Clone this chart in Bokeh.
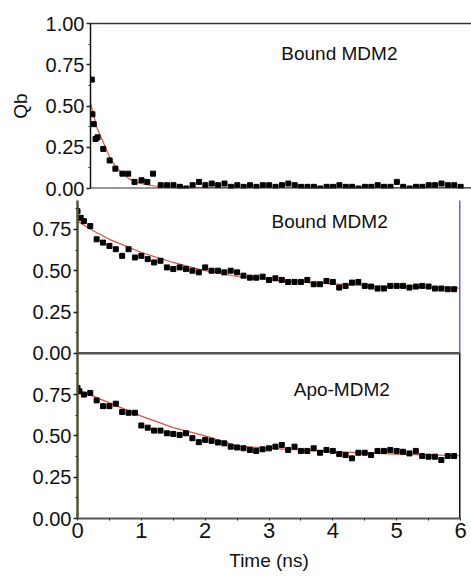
from bokeh.plotting import figure
from bokeh.layouts import column, row
from bokeh.models import LinearAxis, FixedTicker, Label, Range1d, Span, Spacer
from bokeh.embed import file_html
from bokeh.resources import INLINE

FONT = "Liberation Sans"

# ---------------- data ----------------
# Top panel: Qb, Bound MDM2
top_t = [0.02, 0.03, 0.05, 0.08, 0.11, 0.2, 0.3, 0.39, 0.5, 0.59, 0.69, 0.8, 0.89, 0.98,
         1.1, 1.2, 1.3, 1.4, 1.5, 1.6, 1.7, 1.8, 1.9, 2.0, 2.1, 2.2, 2.3, 2.4, 2.5, 2.6,
         2.7, 2.8, 2.9, 3.0, 3.1, 3.2, 3.3, 3.4, 3.5, 3.6, 3.7, 3.8, 3.9, 4.0, 4.1, 4.2,
         4.3, 4.4, 4.5, 4.6, 4.7, 4.8, 4.9, 5.0, 5.1, 5.2, 5.3, 5.4, 5.5, 5.6, 5.7, 5.8]
top_q = [0.66, 0.45, 0.39, 0.30, 0.31, 0.24, 0.17, 0.12, 0.09, 0.09, 0.04, 0.05, 0.04, 0.09,
         0.02, 0.02, 0.02, 0.01, 0.00, 0.02, 0.04, 0.02, 0.03, 0.02, 0.03, 0.01, 0.02, 0.01,
         0.02, 0.01, 0.02, 0.02, 0.01, 0.02, 0.03, 0.02, 0.01, 0.01, 0.01, 0.00, 0.01, 0.01,
         0.02, 0.01, 0.01, 0.00, 0.01, 0.01, 0.02, 0.01, 0.01, 0.04, 0.01, 0.00, 0.01, 0.01,
         0.02, 0.02, 0.03, 0.02, 0.02, 0.01]
top_fit_t = [0.0, 0.1, 0.2, 0.3, 0.4, 0.5, 0.6, 0.7, 0.8, 1.0, 1.2, 1.5, 2.0, 4.0, 6.0]
top_fit_q = [0.52, 0.37, 0.28, 0.19, 0.13, 0.09, 0.06, 0.04, 0.03, 0.015, 0.01, 0.008, 0.006, 0.006, 0.006]

# Middle panel: Qf, Bound MDM2
mid_t = [0.0, 0.05, 0.1, 0.2, 0.3, 0.4, 0.5, 0.6, 0.7, 0.8, 0.9, 1.0, 1.1, 1.2, 1.3, 1.4,
         1.5, 1.6, 1.7, 1.8, 1.9, 2.0, 2.1, 2.2, 2.3, 2.4, 2.5, 2.6, 2.7, 2.8, 2.9, 3.0,
         3.1, 3.2, 3.3, 3.4, 3.5, 3.6, 3.7, 3.8, 3.9, 4.0, 4.1, 4.2, 4.3, 4.4, 4.5, 4.6,
         4.7, 4.8, 4.9, 5.0, 5.1, 5.2, 5.3, 5.4, 5.5, 5.6, 5.7, 5.8, 5.9]
mid_q = [0.86, 0.82, 0.80, 0.77, 0.69, 0.67, 0.65, 0.63, 0.59, 0.63, 0.58, 0.59, 0.57, 0.55,
         0.56, 0.52, 0.51, 0.52, 0.51, 0.50, 0.49, 0.52, 0.50, 0.50, 0.49, 0.50, 0.49, 0.47,
         0.458, 0.458, 0.464, 0.444, 0.454, 0.444, 0.432, 0.432, 0.432, 0.444, 0.418, 0.418,
         0.438, 0.432, 0.398, 0.408, 0.428, 0.432, 0.408, 0.404, 0.392, 0.392, 0.408, 0.408,
         0.408, 0.398, 0.404, 0.408, 0.404, 0.392, 0.392, 0.388, 0.388]
mid_fit_t = [0.0, 0.25, 0.5, 0.75, 1.0, 1.5, 2.0, 2.5, 3.0, 3.5, 4.0, 4.5, 5.0, 5.5, 6.0]
mid_fit_q = [0.80, 0.74, 0.69, 0.65, 0.61, 0.55, 0.50, 0.465, 0.445, 0.43, 0.42, 0.41, 0.405, 0.40, 0.395]

# Bottom panel: Qf, Apo-MDM2
apo_t = [0.0, 0.03, 0.1, 0.2, 0.3, 0.4, 0.5, 0.6, 0.7, 0.8, 0.9, 1.0, 1.1, 1.2, 1.3, 1.4,
         1.5, 1.6, 1.7, 1.8, 1.9, 2.0, 2.1, 2.2, 2.3, 2.4, 2.5, 2.6, 2.7, 2.8, 2.9, 3.0,
         3.1, 3.2, 3.3, 3.4, 3.5, 3.6, 3.7, 3.8, 3.9, 4.0, 4.1, 4.2, 4.3, 4.4, 4.5, 4.6,
         4.7, 4.8, 4.9, 5.0, 5.1, 5.2, 5.3, 5.4, 5.5, 5.6, 5.7, 5.8, 5.9]
apo_q = [0.79, 0.77, 0.75, 0.76, 0.715, 0.68, 0.68, 0.695, 0.645, 0.64, 0.64, 0.563, 0.55,
         0.532, 0.532, 0.516, 0.512, 0.506, 0.516, 0.486, 0.462, 0.476, 0.47, 0.46, 0.455,
         0.435, 0.43, 0.425, 0.415, 0.409, 0.419, 0.425, 0.435, 0.445, 0.415, 0.435, 0.409,
         0.409, 0.425, 0.398, 0.415, 0.409, 0.39, 0.384, 0.364, 0.398, 0.398, 0.384, 0.409,
         0.409, 0.415, 0.409, 0.404, 0.394, 0.409, 0.378, 0.374, 0.374, 0.354, 0.378, 0.378]
apo_fit_t = [0.0, 0.5, 1.0, 1.5, 2.0, 2.5, 3.0, 3.5, 4.0, 4.5, 5.0, 5.5, 6.0]
apo_fit_q = [0.78, 0.70, 0.62, 0.55, 0.50, 0.44, 0.425, 0.415, 0.405, 0.397, 0.39, 0.385, 0.38]

x_ticks = [0, 1, 2, 3, 4, 5, 6]
x_minor = [0.5, 1.5, 2.5, 3.5, 4.5, 5.5]
y_ticks_top = [0.0, 0.25, 0.5, 0.75, 1.0]
y_ticks = [0.0, 0.25, 0.5, 0.75]
y_minor = [0.125, 0.375, 0.625, 0.875]

FIT = "#e5503f"
TXT = "#111111"


def style_y(ax, color, width):
    ax.axis_line_color = color
    ax.axis_line_width = width
    ax.major_tick_line_color = "#222222"
    ax.minor_tick_line_color = "#222222"
    ax.major_tick_line_width = 1.5
    ax.major_tick_out = 4
    ax.major_tick_in = 0
    ax.minor_tick_out = 2
    ax.minor_tick_in = 0
    ax.major_label_standoff = 2
    ax.major_label_text_font = FONT
    ax.major_label_text_font_size = "20px"
    ax.major_label_text_color = TXT


def bare_axis(color, width):
    return LinearAxis(ticker=FixedTicker(ticks=[]), axis_line_color=color, axis_line_width=width,
                      major_tick_line_color=None, minor_tick_line_color=None,
                      major_label_standoff=0)


def data(p, t, q, ft, fq, rng="default"):
    p.line(ft, fq, line_color=FIT, line_width=1.2, y_range_name=rng)
    p.scatter(t, q, marker="square", size=5, fill_color="black", line_color="black",
              y_range_name=rng)


# ---------------- top panel (Qb) ----------------
p1 = figure(width=465, height=200, x_range=Range1d(0, 5.97), y_range=Range1d(0, 1.0),
            output_backend="svg", toolbar_location=None,
            min_border_left=84, min_border_right=0, min_border_top=23, min_border_bottom=12)
p1.grid.visible = False
p1.outline_line_color = None
p1.xaxis.visible = False
data(p1, top_t, top_q, top_fit_t, top_fit_q)
ay = p1.yaxis[0]
ay.ticker = FixedTicker(ticks=y_ticks_top, minor_ticks=y_minor)
ay.major_label_overrides = {v: f"{v:.2f}" for v in y_ticks_top}
style_y(ay, "#111111", 1.5)
ay.axis_label = "Qb"
ay.axis_label_text_font = FONT
ay.axis_label_text_font_size = "19px"
ay.axis_label_text_font_style = "normal"
ay.axis_label_text_color = TXT
ay.axis_label_standoff = 12
p1.add_layout(bare_axis("#333333", 1.5), "above")
p1.add_layout(Span(location=0, dimension="width", line_color="#333333", line_width=2))
p1.add_layout(Label(x=3.9, y=0.82, text="Bound MDM2", text_align="center", text_baseline="middle",
                    text_font=FONT, text_font_size="19px", text_color=TXT))

# ---------------- middle + bottom panels (Qf) ----------------
p2 = figure(width=471, height=379, x_range=Range1d(0, 6.0), y_range=Range1d(0, 1.925),
            output_backend="svg", toolbar_location=None,
            min_border_left=77, min_border_right=11, min_border_top=0, min_border_bottom=61)
p2.extra_y_ranges = {"mid": Range1d(-1.0, 0.925)}
p2.grid.visible = False
p2.outline_line_color = None

data(p2, apo_t, apo_q, apo_fit_t, apo_fit_q)
data(p2, mid_t, mid_q, mid_fit_t, mid_fit_q, rng="mid")

ticks_all = y_ticks + [v + 1.0 for v in y_ticks]
minor_all = y_minor + [v + 1.0 for v in y_minor]
ay = p2.yaxis[0]
ay.ticker = FixedTicker(ticks=ticks_all, minor_ticks=minor_all)
overrides = {v: f"{v:.2f}" for v in y_ticks}
overrides.update({v + 1.0: f"{v:.2f}" for v in y_ticks})
ay.major_label_overrides = overrides
style_y(ay, "#55532f", 2.5)

# separator (middle panel's x axis at its 0.00)
p2.add_layout(Span(location=0.0, dimension="width", line_color="#555555", line_width=2.5,
                   y_range_name="mid"))
# right frame lines: black for the bottom panel, blue for the middle one
p2.segment(x0=[6.0], y0=[0.0], x1=[6.0], y1=[1.0], line_color="#111111", line_width=3)
p2.segment(x0=[6.0], y0=[0.0], x1=[6.0], y1=[1.0], line_color="#6464d6", line_width=3,
           y_range_name="mid")

ax = p2.xaxis[0]
ax.ticker = FixedTicker(ticks=x_ticks, minor_ticks=x_minor)
ax.axis_line_color = "#555555"
ax.axis_line_width = 2
ax.major_tick_line_color = "#222222"
ax.minor_tick_line_color = "#222222"
ax.major_tick_out = 2
ax.major_tick_in = 0
ax.minor_tick_out = 2
ax.minor_tick_in = 0
ax.major_label_standoff = 2
ax.major_label_text_font = FONT
ax.major_label_text_font_size = "22px"
ax.major_label_text_color = TXT
ax.axis_label = "Time (ns)"
ax.axis_label_text_font = FONT
ax.axis_label_text_font_size = "19px"
ax.axis_label_text_font_style = "normal"
ax.axis_label_text_color = TXT
ax.axis_label_standoff = 9

p2.add_layout(Label(x=3.95, y=0.80, text="Bound MDM2", text_align="center", text_baseline="middle",
                    text_font=FONT, text_font_size="19px", text_color=TXT, y_range_name="mid"))
p2.add_layout(Label(x=4.14, y=0.78, text="Apo-MDM2", text_align="center", text_baseline="middle",
                    text_font=FONT, text_font_size="19px", text_color=TXT))

layout = column(row(Spacer(width=6, height=200), p1, spacing=0), p2, spacing=0)
open("out.html", "w").write(file_html(layout, INLINE))
